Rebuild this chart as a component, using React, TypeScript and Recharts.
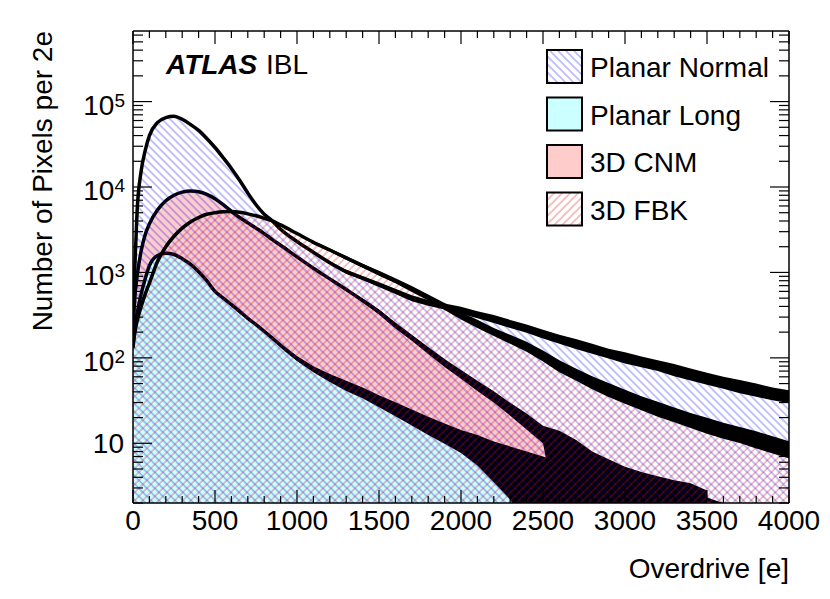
import React from 'react'
import { AreaChart, Area, XAxis, YAxis, ReferenceLine } from 'recharts'

const FONT = "'Liberation Sans', Arial, Helvetica, sans-serif"
const W = 830
const H = 599
const MARGIN = { top: 31, right: 41, bottom: 66, left: 73 }
const Y_AXIS_W = 60
const X_AXIS_H = 30
const PLOT_H = H - MARGIN.top - MARGIN.bottom - X_AXIS_H
const PLOT_W = W - MARGIN.left - Y_AXIS_W - MARGIN.right

const Y_MIN = 2
const Y_MAX = 670000

// overdrive sample points [e]
const X = [
  0, 10, 25, 50, 75, 100, 150, 200, 250, 300, 350, 400, 450, 500, 550, 600, 650, 700, 750, 800, 850,
  900, 1000, 1100, 1200, 1300, 1400, 1500, 1600, 1700, 1800, 1900, 2000, 2100, 2200, 2300, 2400,
  2500, 2600, 2700, 2800, 2900, 3000, 3100, 3200, 3300, 3400, 3500, 3600, 3700, 3800, 3900, 4000,
]

// pixels per 2e
const NORMAL = [
  300, 1000, 5200, 15500, 27000, 40000, 57000, 65000, 67500, 62000, 54000, 46000, 37000, 29000, 22000,
  16500, 12000, 8500, 6200, 4800, 4000, 3200, 2300, 1720, 1300, 1020, 860, 720, 600, 500, 440, 400,
  360, 320, 285, 250, 220, 190, 165, 145, 128, 112, 100, 90, 81, 72, 64, 57, 51, 46, 42, 38, 35,
]
const LONG = [
  150, 220, 330, 560, 850, 1200, 1580, 1680, 1620, 1450, 1250, 1020, 800, 600, 500, 420, 350, 290,
  245, 205, 170, 140, 98, 74, 58, 47, 39, 31, 25, 20, 16, 13, 10.5, 8.5, 6.8, 5.3, 4.3, 3.5, 2.8, 2.3,
  1.9, 1.6, 1.4, 1.25, 1.1, 1, 0.9, 0.8, 0.75, 0.7, 0.65, 0.6, 0.55,
]
const CNM = [
  200, 470, 900, 1800, 2800, 3700, 5400, 6900, 8000, 8700, 9000, 8800, 8200, 7300, 6200, 5200, 4400,
  3800, 3300, 2850, 2420, 2080, 1520, 1120, 840, 630, 470, 345, 240, 172, 122, 87, 64, 47, 35, 25, 18,
  13, 9.5, 7.3, 5.8, 4.8, 4.1, 3.6, 3.2, 2.8, 2.5, 2.2, 1.9, 1.7, 1.5, 1.3, 1.2,
]
const FBK = [
  130, 190, 270, 400, 560, 750, 1350, 2000, 2650, 3300, 3900, 4400, 4800, 5000, 5120, 5150, 5050,
  4850, 4600, 4300, 4000, 3600, 2850, 2250, 1830, 1480, 1200, 980, 800, 640, 510, 400, 310, 250, 200,
  165, 135, 105, 80, 64, 51, 42, 35, 29.5, 25, 21.5, 18.5, 16, 14, 12.5, 11, 9.6, 8.4,
]

// spread of the noisy tails (low / high edge of the black band)
const BAND_X = [
  900, 1000, 1100, 1200, 1300, 1400, 1500, 1600, 1700, 1800, 1900, 2000, 2100, 2200, 2300, 2400,
  2500, 2600, 2700, 2800, 2900, 3000, 3100, 3200, 3300, 3400, 3500, 3600, 3700, 3800, 3900, 4000,
]
const NORMAL_LO = [
  null, null, 1650, 1250, 967, 815, 673, 561, 461, 406, 369, 328, 291, 256, 224, 197, 168, 146, 127,
  112, 98, 86, 77.6, 70, 61, 54.5, 48.5, 43.4, 38.6, 35, 32, 29.4,
]
const NORMAL_HI = [
  null, null, 1790, 1355, 1076, 907, 770, 642, 542, 477, 434, 396, 352, 317, 278, 245, 214, 186, 166,
  146, 128, 116, 104, 94, 85, 75, 67, 60, 55, 50, 45, 41.7,
]
const FBK_LO = [
  null, null, 2160, 1760, 1403, 1137, 916, 748, 590, 470, 364, 282, 224, 180, 146, 118, 90.5, 68,
  54.4, 42.8, 34.8, 29, 24.4, 20.4, 17.6, 15.1, 12.9, 11.3, 10.1, 8.7, 7.6, 6.7,
]
const FBK_HI = [
  null, null, 2340, 1905, 1561, 1266, 1049, 856, 694, 553, 440, 341, 279, 223, 186, 154, 122, 94, 75,
  61, 50.7, 42.3, 35.6, 30.6, 26.3, 22.6, 19.9, 17.4, 15.5, 13.8, 12.1, 10.6,
]
const CNM_LO = [
  null, null, null, null, 605, 445, 322, 221, 159, 111, 78, 57, 41, 30, 21, 14.5, 10, 1, 1, 1, 1, 1, 1,
  1, 1, 1, 1, null, null, null, null, null,
]
const CNM_HI = [
  null, null, null, null, 656, 496, 369, 260, 186, 134, 97, 72, 54, 40.6, 29.8, 22.3, 16, 14, 11, 8,
  6.5, 5.3, 4.6, 4.1, 3.7, 3.4, 2.8, null, null, null, null, null,
]
const LONG_LO = [
  134.5, 91.6, 68, 52, 41, 33.6, 26.4, 20.7, 16.1, 12.5, 9.9, 7.7, 5.5, 3.5, 2.2, 1, 1, 1, null, null,
  null, null, null, null, null, null, null, null, null, null, null, null,
]
const LONG_HI = [
  146, 105, 80, 64.6, 53.8, 45, 36.5, 30.2, 24.8, 20.4, 17, 14.3, 12.5, 10.5, 9.2, 8, 7, 6, null, null,
  null, null, null, null, null, null, null, null, null, null, null, null,
]

const X_TICKS = [
  0, 100, 200, 300, 400, 500, 600, 700, 800, 900, 1000, 1100, 1200, 1300, 1400, 1500, 1600, 1700, 1800,
  1900, 2000, 2100, 2200, 2300, 2400, 2500, 2600, 2700, 2800, 2900, 3000, 3100, 3200, 3300, 3400, 3500,
  3600, 3700, 3800, 3900, 4000,
]
const Y_TICKS = [
  2, 3, 4, 5, 6, 7, 8, 9, 10, 20, 30, 40, 50, 60, 70, 80, 90, 100, 200, 300, 400, 500, 600, 700, 800,
  900, 1000, 2000, 3000, 4000, 5000, 6000, 7000, 8000, 9000, 10000, 20000, 30000, 40000, 50000, 60000,
  70000, 80000, 90000, 100000, 200000, 300000, 400000, 500000, 600000,
]
// decade ticks -> exponent shown in the label
const Y_DECADES: Record<number, number> = { 10: 1, 100: 2, 1000: 3, 10000: 4, 100000: 5 }

const LEGEND = [
  { name: 'Planar Normal', fill: 'url(#lgBlue)' },
  { name: 'Planar Long', fill: '#ccffff' },
  { name: '3D CNM', fill: '#ffcccc' },
  { name: '3D FBK', fill: 'url(#lgRed)' },
]

function band(lo: (number | null)[], hi: (number | null)[], x: number) {
  const i = BAND_X.indexOf(x)
  if (i < 0 || lo[i] == null || hi[i] == null) return null
  return [lo[i], hi[i]]
}

const rows = X.map((x, i) => ({
  x,
  normal: NORMAL[i],
  long: LONG[i],
  cnm: CNM[i],
  fbk: FBK[i],
  normalBand: band(NORMAL_LO, NORMAL_HI, x),
  fbkBand: band(FBK_LO, FBK_HI, x),
  cnmBand: band(CNM_LO, CNM_HI, x),
  longBand: band(LONG_LO, LONG_HI, x),
}))

function XTick(props: any) {
  const { x, y, payload } = props
  const v = payload.value
  const major = v % 500 === 0
  const len = major ? 13 : 7
  return (
    <g>
      <line x1={x} y1={y} x2={x} y2={y - len} stroke="#000" strokeWidth={1.2} />
      <line x1={x} y1={y - PLOT_H} x2={x} y2={y - PLOT_H + len} stroke="#000" strokeWidth={1.2} />
      {major && (
        <text x={x} y={y + 27} textAnchor="middle" fontFamily={FONT} fontSize={28} fill="#000">
          {v}
        </text>
      )}
    </g>
  )
}

function YTick(props: any) {
  const { x, y, payload } = props
  const exp = Y_DECADES[payload.value]
  const major = exp !== undefined
  const len = major ? 19 : 10
  return (
    <g>
      <line x1={x} y1={y} x2={x + len} y2={y} stroke="#000" strokeWidth={1.2} />
      <line x1={x + PLOT_W} y1={y} x2={x + PLOT_W - len} y2={y} stroke="#000" strokeWidth={1.2} />
      {major && exp === 1 && (
        <text x={x - 9} y={y + 10} textAnchor="end" fontFamily={FONT} fontSize={28} fill="#000">
          10
        </text>
      )}
      {major && exp > 1 && (
        <text x={x - 8} y={y + 13} textAnchor="end" fontFamily={FONT} fontSize={28} fill="#000">
          <tspan>10</tspan>
          <tspan dy={-8} fontSize={19}>
            {exp}
          </tspan>
        </text>
      )}
    </g>
  )
}

function Hatch({ id, angle, color, opacity }: { id: string; angle: number; color: string; opacity: number }) {
  return (
    <pattern id={id} patternUnits="userSpaceOnUse" width={5.66} height={10} patternTransform={`rotate(${angle})`}>
      <line x1={2} y1={-1} x2={2} y2={11} stroke={color} strokeOpacity={opacity} strokeWidth={1.2} />
    </pattern>
  )
}

export default function App() {
  return (
    <div style={{ position: 'relative', width: W, height: H, background: '#fff' }}>
      <style>{'body{margin:0}'}</style>
      <AreaChart width={W} height={H} data={rows} margin={MARGIN}>
        <defs>
          <Hatch id="hatchBlue" angle={-45} color="#0000ff" opacity={0.4} />
          <Hatch id="hatchRed" angle={45} color="#ff0000" opacity={0.42} />
        </defs>
        <XAxis
          dataKey="x"
          type="number"
          domain={[0, 4000]}
          ticks={X_TICKS}
          interval={0}
          allowDataOverflow
          height={X_AXIS_H}
          tickSize={0}
          tickMargin={0}
          axisLine={false}
          tickLine={false}
          tick={<XTick />}
        />
        <YAxis
          type="number"
          scale="log"
          domain={[Y_MIN, Y_MAX]}
          ticks={Y_TICKS}
          interval={0}
          allowDataOverflow
          width={Y_AXIS_W}
          tickSize={0}
          tickMargin={0}
          axisLine={false}
          tickLine={false}
          tick={<YTick />}
        />
        <Area
          dataKey="cnm"
          type="monotone"
          fill="#ffcccc"
          fillOpacity={1}
          stroke="#000"
          strokeWidth={3.5}
          dot={false}
          activeDot={false}
          isAnimationActive={false}
        />
        <Area
          dataKey="long"
          type="monotone"
          fill="#ccffff"
          fillOpacity={1}
          stroke="#000"
          strokeWidth={3.5}
          dot={false}
          activeDot={false}
          isAnimationActive={false}
        />
        <Area dataKey="cnmBand" type="linear" fill="#000" fillOpacity={1} stroke="none" dot={false} activeDot={false} isAnimationActive={false} />
        <Area dataKey="longBand" type="linear" fill="#000" fillOpacity={1} stroke="none" dot={false} activeDot={false} isAnimationActive={false} />
        <Area
          dataKey="normal"
          type="monotone"
          fill="url(#hatchBlue)"
          fillOpacity={1}
          stroke="#000"
          strokeWidth={3.5}
          dot={false}
          activeDot={false}
          isAnimationActive={false}
        />
        <Area
          dataKey="fbk"
          type="monotone"
          fill="url(#hatchRed)"
          fillOpacity={1}
          stroke="#000"
          strokeWidth={3.5}
          dot={false}
          activeDot={false}
          isAnimationActive={false}
        />
        <Area dataKey="normalBand" type="linear" fill="#000" fillOpacity={1} stroke="none" dot={false} activeDot={false} isAnimationActive={false} />
        <Area dataKey="fbkBand" type="linear" fill="#000" fillOpacity={1} stroke="none" dot={false} activeDot={false} isAnimationActive={false} />
        <ReferenceLine x={0} stroke="#000" strokeWidth={1.5} />
        <ReferenceLine x={4000} stroke="#000" strokeWidth={1.5} />
        <ReferenceLine y={Y_MIN} stroke="#000" strokeWidth={1.5} />
        <ReferenceLine y={Y_MAX} stroke="#000" strokeWidth={1.5} />
      </AreaChart>

      <svg width={W} height={H} style={{ position: 'absolute', left: 0, top: 0, pointerEvents: 'none' }}>
        <defs>
          <Hatch id="lgBlue" angle={-45} color="#0000ff" opacity={0.4} />
          <Hatch id="lgRed" angle={45} color="#ff0000" opacity={0.42} />
        </defs>
        <text x={166} y={74} fontFamily={FONT} fontSize={28} fontWeight="bold" fontStyle="italic" fill="#000">
          ATLAS
        </text>
        <text x={266} y={74} fontFamily={FONT} fontSize={28} fill="#000">
          IBL
        </text>
        <text transform="translate(52,31) rotate(-90)" textAnchor="end" fontFamily={FONT} fontSize={28} fill="#000">
          Number of Pixels per 2e
        </text>
        <text x={789} y={578} textAnchor="end" fontFamily={FONT} fontSize={28} fill="#000">
          Overdrive [e]
        </text>
        {LEGEND.map((item, i) => {
          const top = 50 + i * 47.5
          return (
            <g key={item.name}>
              <rect x={547} y={top} width={35} height={33} fill="#fff" />
              <rect x={547} y={top} width={35} height={33} fill={item.fill} stroke="#000" strokeWidth={2} />
              <text x={590} y={top + 27} fontFamily={FONT} fontSize={28} fill="#000">
                {item.name}
              </text>
            </g>
          )
        })}
      </svg>
    </div>
  )
}
